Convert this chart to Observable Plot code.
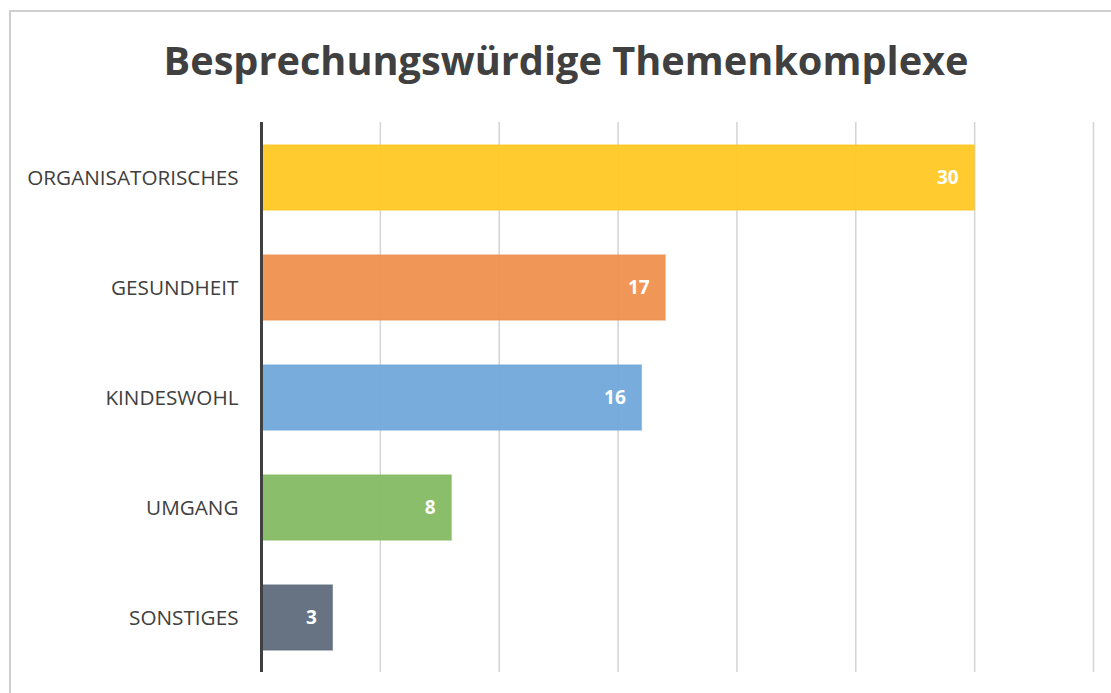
<!DOCTYPE html>
<html>
<head>
<meta charset="utf-8">
<script src="https://cdn.jsdelivr.net/npm/d3@7"></script>
<script src="https://cdn.jsdelivr.net/npm/@observablehq/plot@0.6"></script>
<style>
  html, body { margin: 0; padding: 0; background: #fff; overflow: hidden; width: 1111px; height: 693px; }
  #frame { position: absolute; left: 9px; top: 10px; width: 1200px; height: 800px; border-left: 2px solid #cfcfcf; border-top: 2px solid #cfcfcf; }
  #title { position: absolute; left: 0; width: 1132px; top: 34px; text-align: center; font-family: "Open Sans", sans-serif; font-weight: 700; font-size: 39.7px; color: #404040; margin: 0; line-height: 52px; }
  #chart { position: absolute; left: 0; top: 0; }
</style>
</head>
<body>
<div id="frame"></div>
<h1 id="title">Besprechungswürdige Themenkomplexe</h1>
<div id="chart"></div>
<script>
const categories = ["ORGANISATORISCHES", "GESUNDHEIT", "KINDESWOHL", "UMGANG", "SONSTIGES"];
const values = [30, 17, 16, 8, 3];
const colors = ["#ffc823", "#ef914f", "#70a8da", "#84ba62", "#5f6b7c"];
const gridTicks = [5, 10, 15, 20, 25, 30, 35];

const data = categories.map((c, i) => ({ category: c, value: values[i], color: colors[i] }));

const chart = Plot.plot({
  width: 1111,
  height: 693,
  marginLeft: 261,
  marginRight: 18,
  marginTop: 122,
  marginBottom: 21,
  style: { fontFamily: "'Open Sans', sans-serif", background: "transparent" },
  x: { domain: [0, 35], axis: null },
  y: { domain: categories, paddingInner: 0.41, paddingOuter: 0.205, label: null },
  marks: [
    Plot.ruleX(gridTicks, { stroke: "#d4d4d4", strokeWidth: 1.5 }),
    Plot.barX(data, { x: "value", y: "category", fill: "color", fillOpacity: 0.95, stroke: "color", strokeOpacity: 0.6, strokeWidth: 1.5 }),
    Plot.ruleX([0], { stroke: "#404040", strokeWidth: 3 }),
    Plot.text(data, { x: "value", y: "category", text: d => String(d.value), textAnchor: "end", dx: -16, fill: "#ffffff", fontWeight: 700, fontSize: 19 }),
    Plot.axisY({ tickSize: 0, tickPadding: 23, fontSize: 20.7, color: "#404040", label: null })
  ]
});
document.getElementById("chart").appendChild(chart);
</script>
</body>
</html>
